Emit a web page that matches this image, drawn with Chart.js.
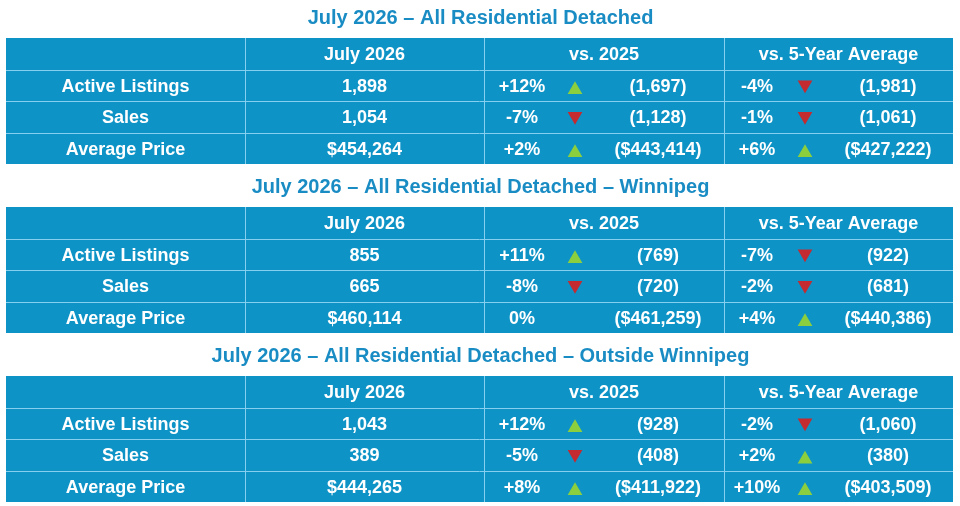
<!DOCTYPE html>
<html>
<head>
<meta charset="utf-8">
<script src="https://cdn.jsdelivr.net/npm/chart.js@4.4.1/dist/chart.umd.min.js"></script>
<style>
  html, body { margin: 0; padding: 0; background: #ffffff; }
  #wrap { width: 960px; height: 506px; }
</style>
</head>
<body>
<div id="wrap"><canvas id="summaryTable" width="960" height="506"></canvas></div>
<script>
// table data
const tableTitles = [
    'July 2026 \u2013 All Residential Detached',
    'July 2026 \u2013 All Residential Detached \u2013 Winnipeg',
    'July 2026 \u2013 All Residential Detached \u2013 Outside Winnipeg'
];
const headers = ['', 'July 2026', 'vs. 2025', 'vs. 5-Year Average'];
const metrics = ['Active Listings', 'Sales', 'Average Price'];
const isPrice = [false, false, true];

const currentValues = [[1898, 1054, 454264], [855, 665, 460114], [1043, 389, 444265]];
const lastYearPct = [[12, -7, 2], [11, -8, 0], [12, -5, 8]];
const lastYearValues = [[1697, 1128, 443414], [769, 720, 461259], [928, 408, 411922]];
const fiveYearPct = [[-4, -1, 6], [-7, -2, 4], [-2, 2, 10]];
const fiveYearValues = [[1981, 1061, 427222], [922, 681, 440386], [1060, 380, 403509]];

// layout (in scale units)
const colEdges = [6, 245, 484, 724, 953];
const tableTops = [38, 207, 376];
const rowH = 31.5;
const textShift = 1.5;
const pctOffset = [38, 33];
const arrowOffset = [91, 81];
const parenOffset = [174, 164];

const cellBg = '#0e93c6';
const gridColor = '#86cfee';
const titleColor = '#1a8cc4';
const upColor = '#8ccf3e';
const downColor = '#c42b30';
const font = '"Liberation Sans", Arial, sans-serif';

function fmt(v, price) {
    const s = v.toLocaleString('en-US');
    return price ? '$' + s : s;
}
function fmtPct(p) {
    return (p > 0 ? '+' : '') + p + '%';
}
function rowMid(t, r) {
    return tableTops[t] + rowH * (r + 0.5);
}

const upPoints = [];
const downPoints = [];
[lastYearPct, fiveYearPct].forEach((pcts, k) => {
    pcts.forEach((rowPcts, t) => {
        rowPcts.forEach((p, m) => {
            const x = colEdges[k + 2] + arrowOffset[k];
            if (p > 0) upPoints.push({x: x, y: rowMid(t, m + 1) + 4.5});
            if (p < 0) downPoints.push({x: x, y: rowMid(t, m + 1) - 0.5});
        });
    });
});

const tablePlugin = {
    id: 'tablePlugin',
    beforeDatasetsDraw(chart) {
        const c = chart.ctx;
        const xs = chart.scales.x;
        const ys = chart.scales.y;
        const px = v => xs.getPixelForValue(v);
        const py = v => ys.getPixelForValue(v);
        c.save();
        tableTops.forEach((top, t) => {
            const x0 = px(colEdges[0]);
            const x1 = px(colEdges[colEdges.length - 1]);
            const y0 = py(top);
            const y1 = py(top + rowH * 4);

            // title
            c.fillStyle = titleColor;
            c.font = 'bold 20px ' + font;
            c.textAlign = 'center';
            c.textBaseline = 'middle';
            c.fillText(tableTitles[t], (x0 + x1) / 2 + 1, py(top - 20));

            // cells
            c.fillStyle = cellBg;
            c.fillRect(x0, y0, x1 - x0, y1 - y0);

            c.strokeStyle = gridColor;
            c.lineWidth = 1;
            c.beginPath();
            for (let r = 1; r < 4; r++) {
                const y = Math.round(py(top + rowH * r)) + 0.5;
                c.moveTo(x0, y);
                c.lineTo(x1, y);
            }
            for (let i = 1; i < colEdges.length - 1; i++) {
                const x = Math.round(px(colEdges[i])) + 0.5;
                c.moveTo(x, y0);
                c.lineTo(x, y1);
            }
            c.stroke();

            // texts
            c.fillStyle = '#ffffff';
            c.font = 'bold 18px ' + font;
            headers.forEach((h, i) => {
                if (!h) return;
                c.fillText(h, px((colEdges[i] + colEdges[i + 1]) / 2), py(rowMid(t, 0) + textShift));
            });
            metrics.forEach((name, m) => {
                const y = py(rowMid(t, m + 1) + textShift);
                c.fillText(name, px((colEdges[0] + colEdges[1]) / 2), y);
                c.fillText(fmt(currentValues[t][m], isPrice[m]), px((colEdges[1] + colEdges[2]) / 2), y);
                [[lastYearPct, lastYearValues], [fiveYearPct, fiveYearValues]].forEach((pair, k) => {
                    const base = colEdges[k + 2];
                    c.fillText(fmtPct(pair[0][t][m]), px(base + pctOffset[k]), y);
                    c.fillText('(' + fmt(pair[1][t][m], isPrice[m]) + ')', px(base + parenOffset[k]), y);
                });
            });
        });
        c.restore();
    }
};

const ctx = document.getElementById('summaryTable').getContext('2d');
const summaryChart = new Chart(ctx, {
    type: 'scatter',
    data: {
        datasets: [{
            label: 'Up',
            data: upPoints,
            pointStyle: 'triangle',
            pointRadius: 8.5,
            pointHoverRadius: 8.5,
            backgroundColor: upColor,
            borderWidth: 0
        }, {
            label: 'Down',
            data: downPoints,
            pointStyle: 'triangle',
            rotation: 180,
            pointRadius: 8.5,
            pointHoverRadius: 8.5,
            backgroundColor: downColor,
            borderWidth: 0
        }]
    },
    options: {
        responsive: false,
        animation: false,
        layout: { padding: 0, autoPadding: false },
        plugins: {
            legend: { display: false },
            tooltip: { enabled: false }
        },
        scales: {
            x: { type: 'linear', min: 0, max: 960, display: false },
            y: { type: 'linear', min: 0, max: 506, reverse: true, display: false }
        }
    },
    plugins: [tablePlugin]
});
</script>
</body>
</html>
